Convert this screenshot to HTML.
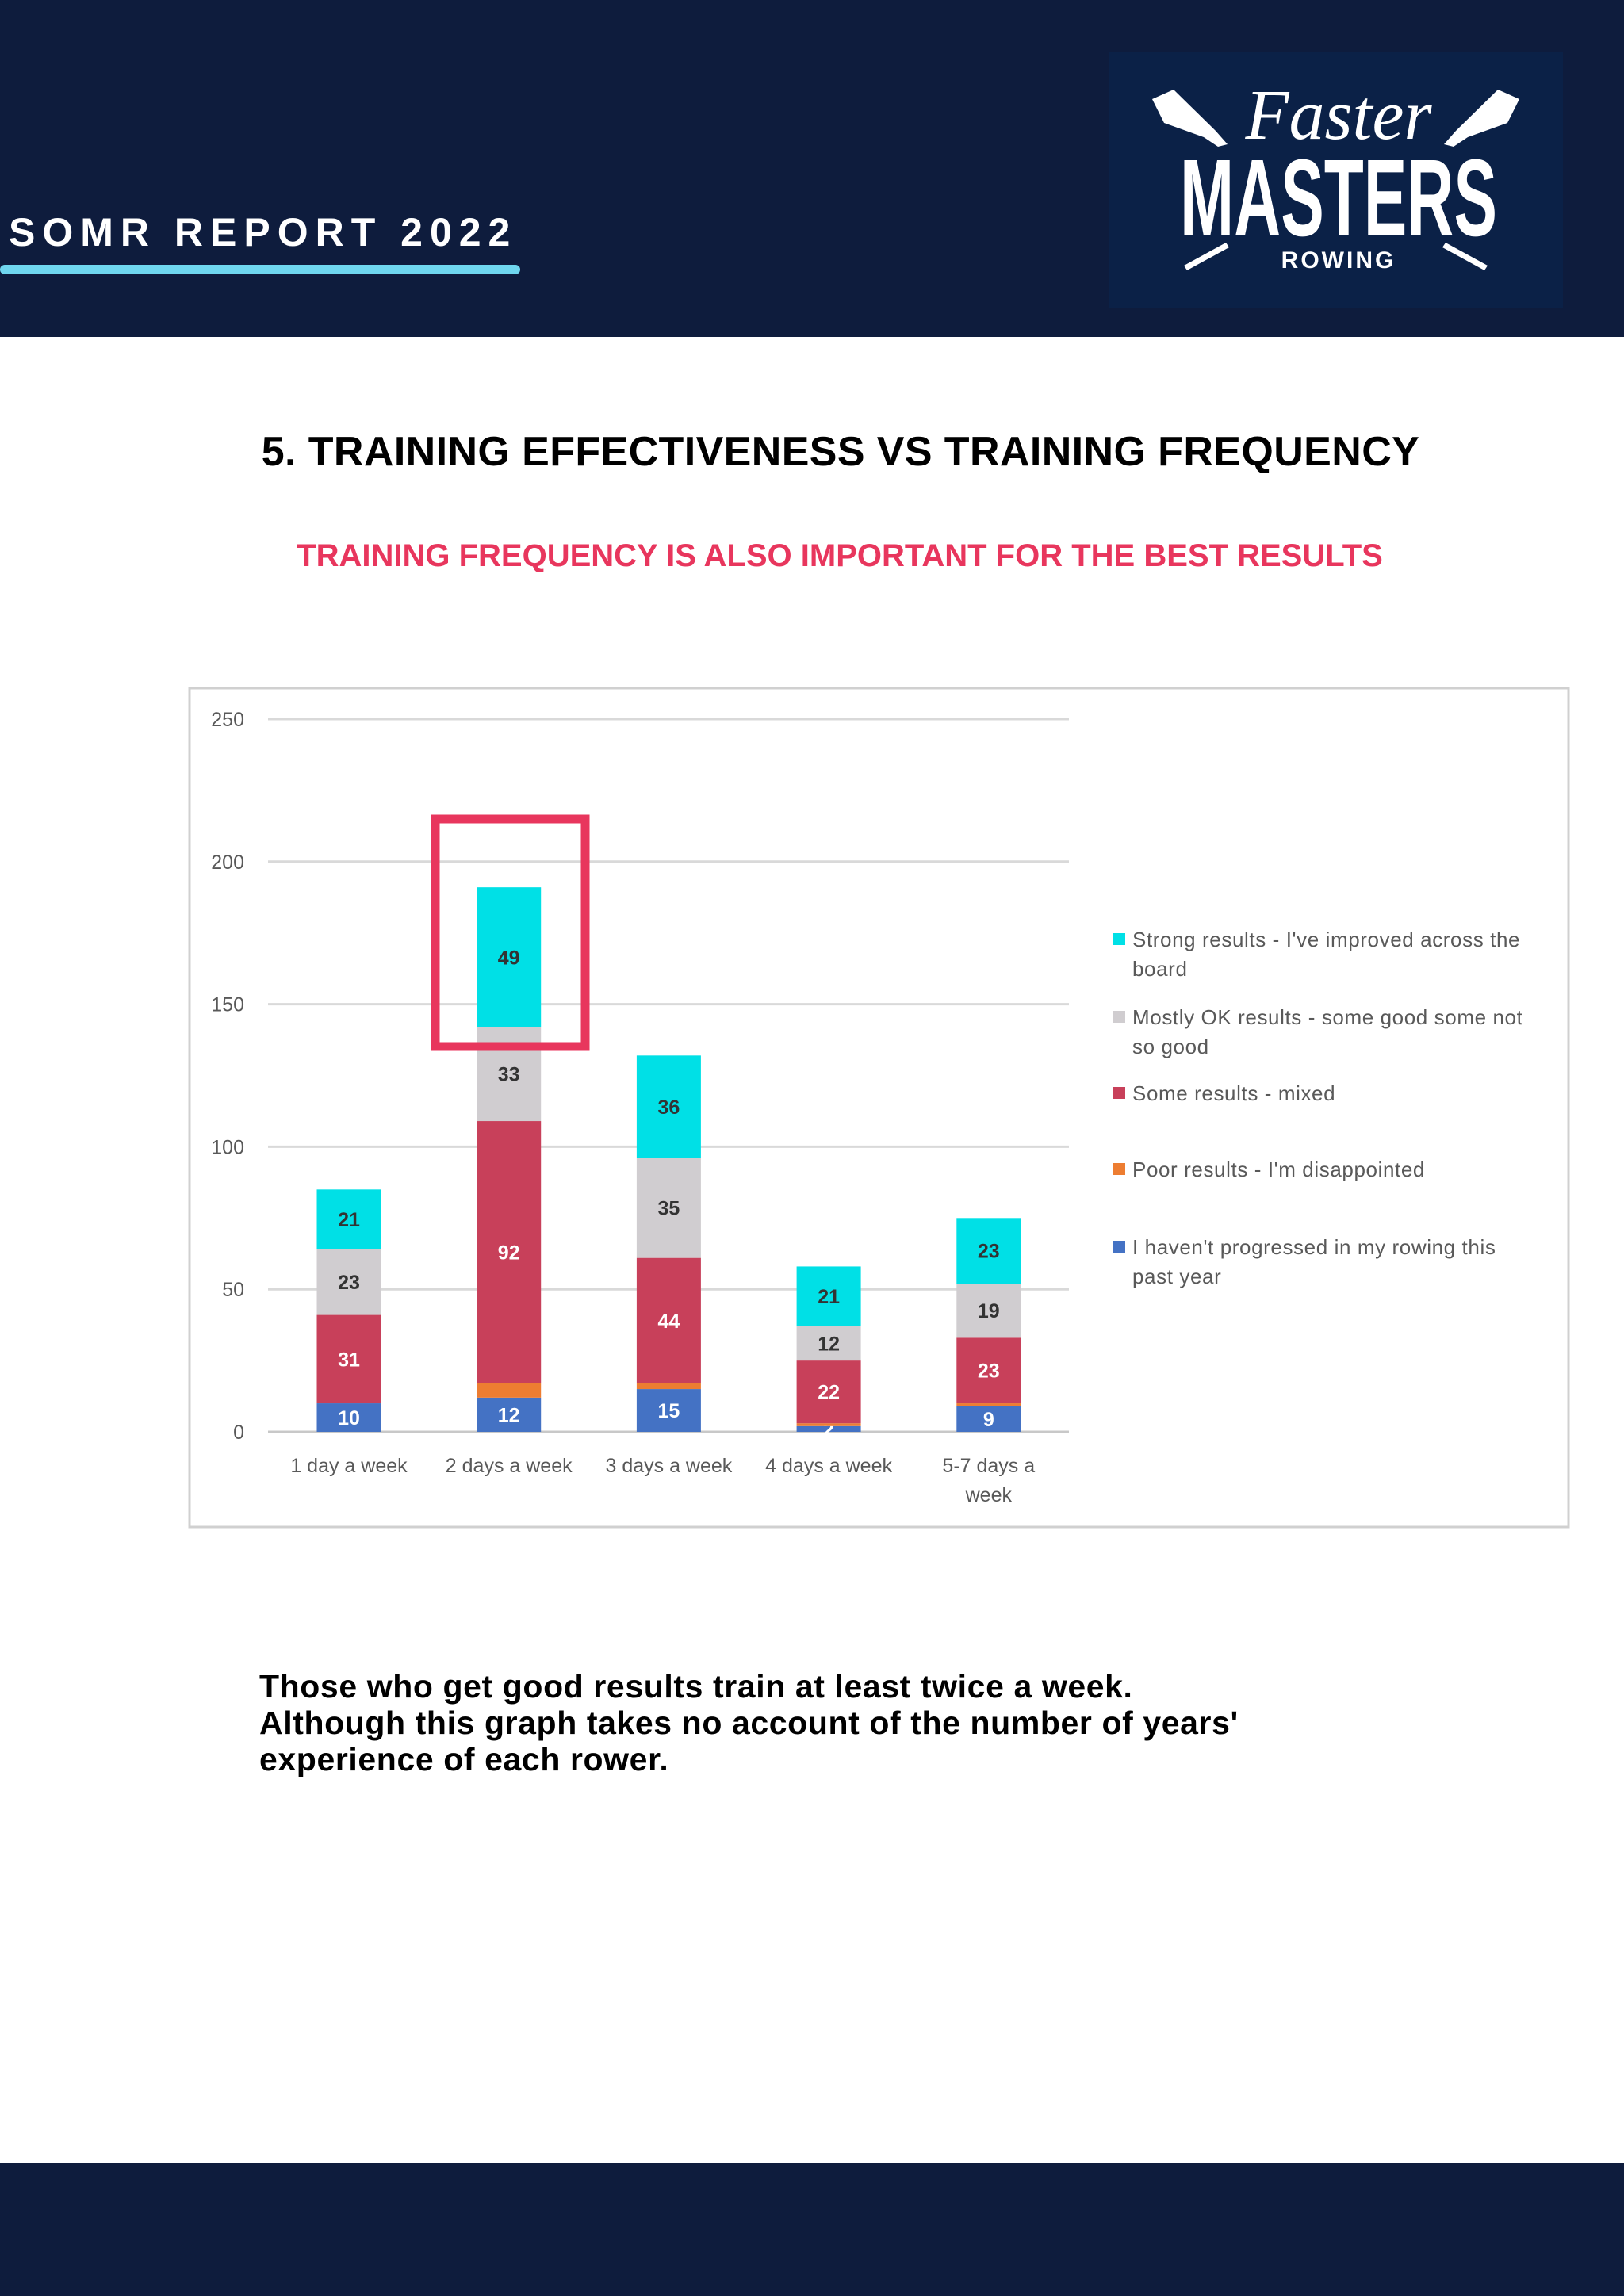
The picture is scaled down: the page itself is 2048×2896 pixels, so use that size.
<!DOCTYPE html>
<html><head><meta charset="utf-8"><style>
body{margin:0;width:2048px;height:2896px;position:relative;background:#fff;font-family:"Liberation Sans",sans-serif;overflow:hidden}
.abs{position:absolute}
</style></head><body>
<div class="abs" style="left:0;top:0;width:2048px;height:425px;background:#0e1c3d"></div>
<div class="abs" style="left:11px;top:264px;color:#fff;font-weight:bold;font-size:50px;letter-spacing:9px">SOMR REPORT 2022</div>
<div class="abs" style="left:0;top:334px;width:656px;height:12px;border-radius:6px;background:#6fd6ef"></div>
<div class="abs" style="left:1398px;top:65px;width:573px;height:323px;background:#0b2147">
<svg width="573" height="323">
<g fill="#fff">
<polygon points="55,60 82,48 135,100 150,117 138,120 120,108 70,90"/>
<polygon points="518,60 491,48 438,100 423,117 435,120 453,108 503,90"/>
<polygon points="95,270 99,276 152,247 148,241"/>
<polygon points="478,270 474,276 421,247 425,241"/>
</g>
<text x="290" y="110" text-anchor="middle" fill="#fff" font-family="Liberation Serif,serif" font-style="italic" font-size="90">Faster</text>
<text x="290" y="232" text-anchor="middle" fill="#fff" font-family="Liberation Sans,sans-serif" font-weight="bold" font-size="138" textLength="400" lengthAdjust="spacingAndGlyphs">MASTERS</text>
<text x="290" y="273" text-anchor="middle" fill="#fff" font-family="Liberation Sans,sans-serif" font-weight="bold" font-size="30" letter-spacing="3">ROWING</text>
</svg></div>
<div class="abs" style="left:0;width:2120px;text-align:center;top:540px;font-weight:bold;font-size:52px;letter-spacing:0.4px;color:#000">5. TRAINING EFFECTIVENESS VS TRAINING FREQUENCY</div>
<div class="abs" style="left:0;width:2118px;text-align:center;top:679px;font-weight:bold;font-size:40px;color:#e8365d">TRAINING FREQUENCY IS ALSO IMPORTANT FOR THE BEST RESULTS</div>
<svg class="abs" style="left:0;top:0" width="2048" height="2896" id="chart">
<rect x="239" y="868" width="1739" height="1058" fill="#fff" stroke="#d0d0d0" stroke-width="3"/>
<g id="grid"></g><g id="bars"></g><g id="legend"></g>
<rect x="549" y="1033" width="189" height="287" fill="none" stroke="#e8365d" stroke-width="11"/>
</svg>
<div class="abs" style="left:327px;top:2104px;font-weight:bold;font-size:41px;letter-spacing:0.6px;line-height:46px;color:#000">Those who get good results train at least twice a week.<br>Although this graph takes no account of the number of years'<br>experience of each rower.</div>
<div class="abs" style="left:0;top:2728px;width:2048px;height:168px;background:#0e1c3d"></div>
<script>
const categories=["1 day a week","2 days a week","3 days a week","4 days a week","5-7 days a|week"];
const notProgressed=[10,12,15,2,9];
const poor=[0,5,2,1,1];
const mixed=[31,92,44,22,23];
const mostlyOk=[23,33,35,12,19];
const strong=[21,49,36,21,23];
const yTicks=[0,50,100,150,200,250];
const seriesNames=["I haven't progressed in my rowing this|past year","Poor results - I'm disappointed","Some results - mixed","Mostly OK results - some good some not|so good","Strong results - I've improved across the|board"];
const series=[notProgressed,poor,mixed,mostlyOk,strong];
const colors=["#4472c4","#ed7d31","#c8405a","#d0cdd0","#00e0e6"];
const labelColors=["#fff",null,"#fff","#333","#333"];
const NS="http://www.w3.org/2000/svg";
const y=v=>1806-v*(899/250);
const xc=i=>440+i*201.7;
const bw=81;
function mk(t,a,p){const e=document.createElementNS(NS,t);for(const k in a)e.setAttribute(k,a[k]);p.appendChild(e);return e;}
const grid=document.getElementById('grid'),bars=document.getElementById('bars'),leg=document.getElementById('legend');
yTicks.forEach(t=>{
 const l=mk('line',{x1:338,x2:1348,y1:y(t),y2:y(t),stroke:t===0?'#c8c8c8':'#d9d9d9','stroke-width':3},grid);
 
 
 const tx=mk('text',{x:308,y:y(t)+9,'text-anchor':'end','font-size':25,fill:'#595959'},grid);
 tx.textContent=t;
 
 
});
categories.forEach((c,i)=>{
 const tx=mk('text',{x:xc(i),y:1857,'text-anchor':'middle','font-size':25,fill:'#595959'},grid);
 
 
 c.split('|').forEach((s,j)=>{const ts=mk('tspan',{x:xc(i),dy:j?37:0},tx);ts.textContent=s;});
 let base=0;
 series.forEach((sv,k)=>{
  const v=sv[i];
  if(v<=0)return;
  const r=mk('rect',{x:xc(i)-bw/2,y:y(base+v),width:bw,height:y(base)-y(base+v),fill:colors[k]},bars);
  
  
  if(labelColors[k]){
   const t=mk('text',{x:xc(i),y:(y(base)+y(base+v))/2+9,'text-anchor':'middle','font-size':25,'font-weight':'bold',fill:labelColors[k]},bars);
   t.textContent=v;
   
   
  }
  base+=v;
 });
});
const legY=[1585,1487,1391,1295,1197];
seriesNames.forEach((n,k)=>{
 const r=mk('rect',{x:1404,y:legY[k]-20,width:15,height:15,fill:colors[k]},leg);
 
 
 const t=mk('text',{x:1428,y:legY[k]-3,'font-size':26,'letter-spacing':0.6,fill:'#595959'},leg);
 
 
 n.split('|').forEach((s,j)=>{const ts=mk('tspan',{x:1428,dy:j?37:0},t);ts.textContent=s;});
});
</script>
</body></html>
